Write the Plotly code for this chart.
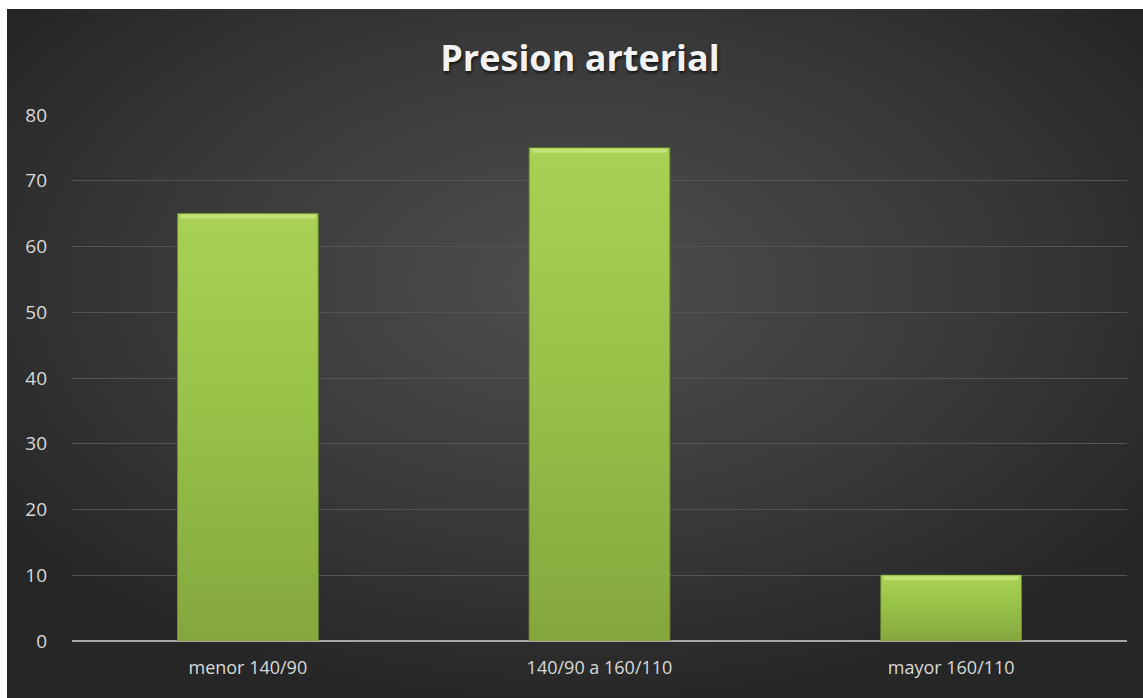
import base64
import plotly.graph_objects as go

# Data
categories = ["menor 140/90", "140/90 a 160/110", "mayor 160/110"]
values = [65, 75, 10]
y_ticks = [0, 10, 20, 30, 40, 50, 60, 70, 80]

W, H = 1143, 698
ML, MR, MT, MB = 72, 16, 115, 57
plot_w = W - ML - MR
plot_h = H - MT - MB
BAR_W = 0.4

# Dark panel with a soft radial glow, sitting inside a thin white margin
panel_x0, panel_y0 = 7, 9
panel_w, panel_h = W - panel_x0, H - panel_y0
svg = (
    f"<svg xmlns='http://www.w3.org/2000/svg' width='{panel_w}' height='{panel_h}'>"
    "<defs><radialGradient id='g' cx='50%' cy='40%' r='62%'>"
    "<stop offset='0' stop-color='#4e4e4e'/>"
    "<stop offset='0.55' stop-color='#3a3a3a'/>"
    "<stop offset='1' stop-color='#262626'/>"
    "</radialGradient></defs>"
    "<rect width='100%' height='100%' fill='url(#g)'/></svg>"
)
bg_src = "data:image/svg+xml;base64," + base64.b64encode(svg.encode()).decode()

positions = list(range(len(categories)))

fig = go.Figure()
fig.add_trace(
    go.Bar(
        x=positions,
        y=values,
        width=BAR_W,
        marker=dict(color="#97c047", line=dict(color="#6a8c2e", width=1)),
        customdata=categories,
        hovertemplate="%{customdata}: %{y}<extra></extra>",
    )
)

# Vertical green gradient laid over each bar
for i, v in zip(positions, values):
    x0, x1 = i - BAR_W / 2 + 0.002, i + BAR_W / 2 - 0.002
    fig.add_trace(
        go.Scatter(
            x=[x0, x1, x1, x0, x0],
            y=[0, 0, v, v, 0],
            mode="lines",
            line=dict(width=0),
            fill="toself",
            fillgradient=dict(
                type="vertical",
                colorscale=[[0, "#84a73e"], [0.55, "#98c248"], [1, "#a9d254"]],
            ),
            hoverinfo="skip",
            showlegend=False,
        )
    )
    # light bevel along the top edge
    fig.add_trace(
        go.Scatter(
            x=[x0 + 0.006, x1 - 0.006],
            y=[v - 0.45, v - 0.45],
            mode="lines",
            line=dict(color="rgba(214,240,150,0.55)", width=4),
            hoverinfo="skip",
            showlegend=False,
        )
    )

fig.update_layout(
    width=W,
    height=H,
    margin=dict(l=ML, r=MR, t=MT, b=MB, pad=0),
    paper_bgcolor="white",
    plot_bgcolor="rgba(0,0,0,0)",
    showlegend=False,
    title=dict(
        text="<b>Presion arterial</b>",
        x=580 / W,
        xanchor="center",
        xref="container",
        y=1 - 58 / H,
        yanchor="middle",
        font=dict(
            family="'Open Sans', Lato, sans-serif",
            size=36,
            color="#f2f2f2",
            shadow="1px 2px 3px rgba(0,0,0,0.7)",
        ),
    ),
    font=dict(family="'Open Sans', Lato, sans-serif", size=18, color="#d9d9d9"),
    xaxis=dict(
        range=[-0.5, 2.5],
        tickvals=positions,
        ticktext=categories,
        showgrid=False,
        showline=False,
        zeroline=False,
        ticks="",
        tickfont=dict(size=18, color="#d9d9d9"),
        ticklabelstandoff=14,
    ),
    yaxis=dict(
        range=[0, 80],
        tickvals=y_ticks,
        showgrid=True,
        gridcolor="#545454",
        gridwidth=1,
        zeroline=True,
        zerolinecolor="#a6a6a6",
        zerolinewidth=2,
        showline=False,
        ticks="",
        tickfont=dict(size=19, color="#d9d9d9"),
        ticklabelstandoff=24,
    ),
    images=[
        dict(
            source=bg_src,
            xref="paper",
            yref="paper",
            x=(panel_x0 - ML) / plot_w,
            y=(H - MB - panel_y0) / plot_h,
            sizex=panel_w / plot_w,
            sizey=panel_h / plot_h,
            xanchor="left",
            yanchor="top",
            sizing="stretch",
            layer="below",
        )
    ],
)

fig.write_html("out.html")
